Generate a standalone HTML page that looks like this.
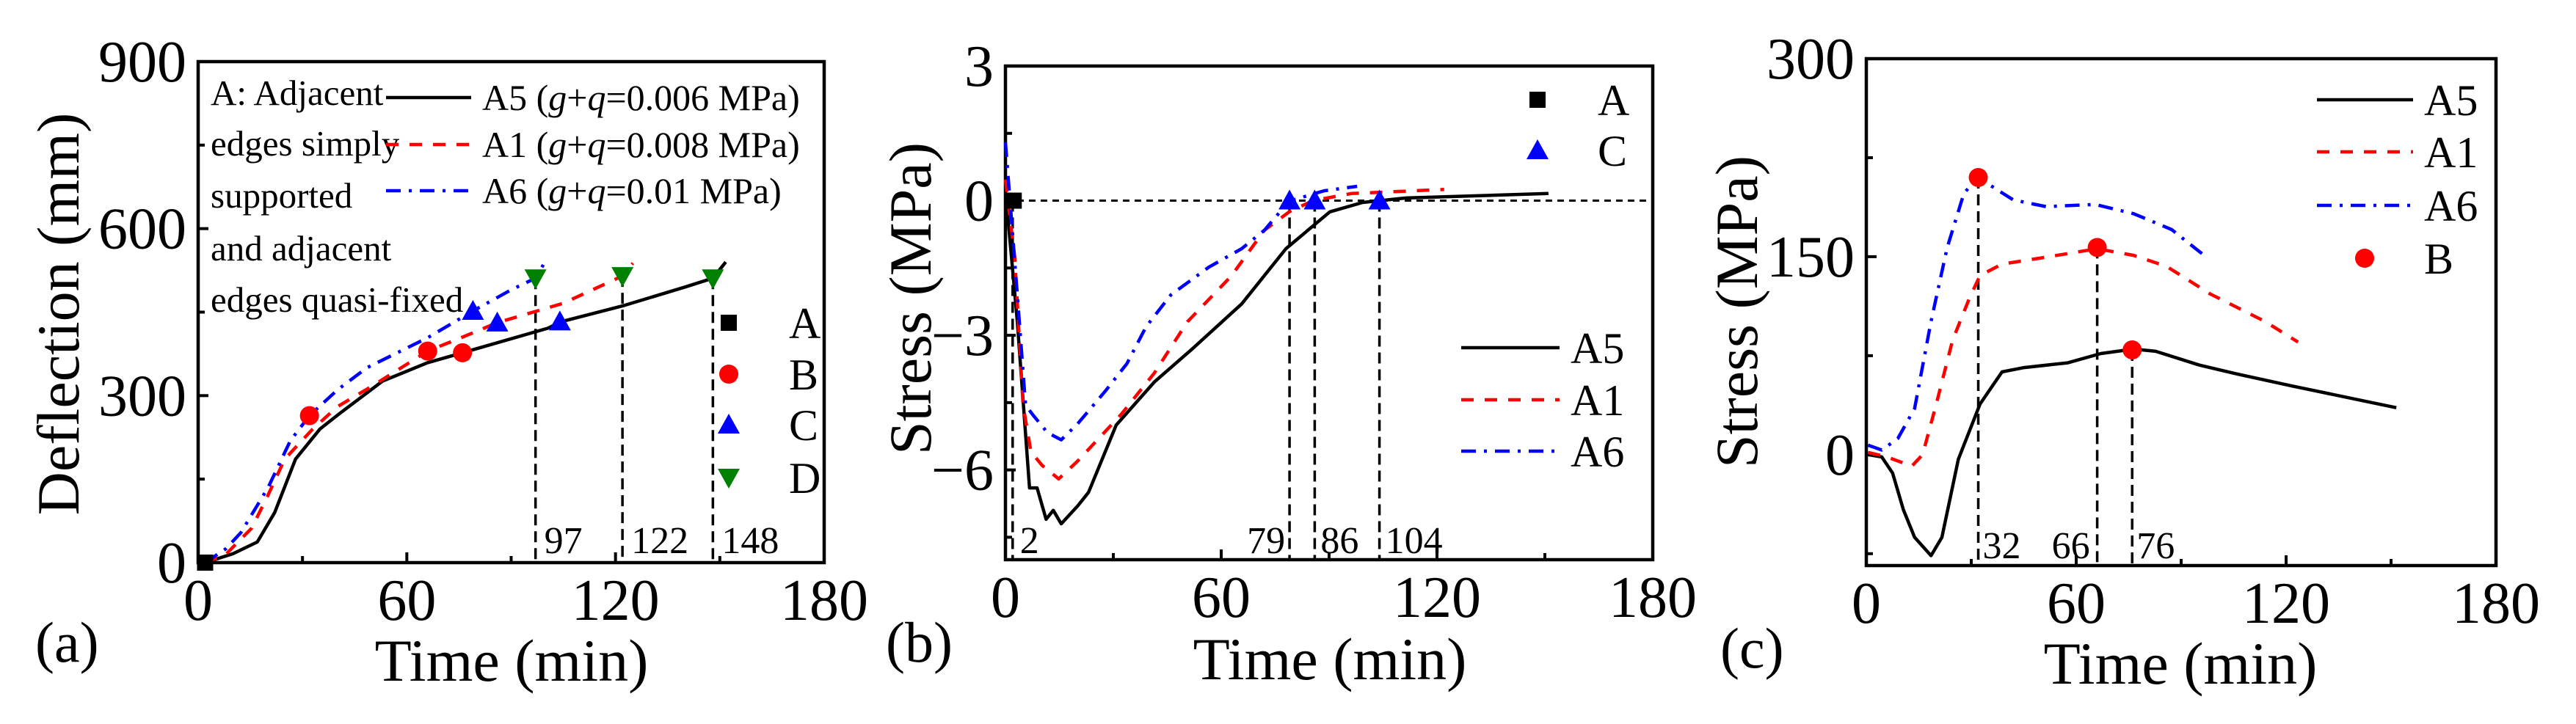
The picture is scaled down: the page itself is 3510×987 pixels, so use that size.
<!DOCTYPE html>
<html><head><meta charset="utf-8">
<style>
html,body{margin:0;padding:0;background:#fff;}
svg, svg text{font-family:"Liberation Serif","Times New Roman","DejaVu Serif",serif;}
</style></head>
<body>
<svg id="fig" xmlns="http://www.w3.org/2000/svg" width="3510" height="982" viewBox="0 0 3510 982" font-family="Liberation Serif, DejaVu Serif, serif"></svg>
<script>
// ---------- Panel (a) data: deflection (mm) vs time (min) ----------
const aA5T=[0,2,10,17,22,28,35,40.7,53,65.9,76,100.5,104.5,122.5,140,148,151.7];
const aA5Y=[0,0,16,37,90,186,240,268,326,359,377,421,433,462,495,511,540];
const aA1T=[2,8,15.4,20,24.9,32.8,40,50,66,76,86,105,122,125];
const aA1Y=[0,15,62,120,186,239,280,317,380,405,431,466,515,538];
const aA6T=[2,8,12.3,20.2,26.5,32,40,48.5,66,79,90,97,99.7];
const aA6Y=[0,25,54,136,219,264,310,350,404,452,490,511,540];
const aMarkA=[[2,0]];
const aMarkB=[[32,264],[66,380],[76,377]];
const aMarkC=[[79,452],[86,431],[104,433]];
const aMarkD=[[97,511],[122,515],[148,511]];
const aVLines=[97,122,148];
const aVLineTops=[511,515,511];

// ---------- Panel (b) data: stress (MPa) vs time ----------
const bA5T=[0.3,3.3,6.7,8.8,11.3,13.3,15.5,20.1,23.1,30.8,41.4,52,65.7,78,90.2,99.3,111.4,151];
const bA5Y=[-0.04,-2.7,-6.4,-6.4,-7.1,-6.9,-7.2,-6.8,-6.5,-5.0,-4.04,-3.3,-2.3,-1.07,-0.25,-0.04,0.06,0.16];
const bA1T=[0,2.6,4.9,7.1,10.2,14.8,20.1,32.2,41.4,50.6,62.8,72,78.9,85.5,96.2,122];
const bA1Y=[0.47,-1.27,-4.56,-5.6,-5.9,-6.2,-5.8,-4.76,-3.84,-2.7,-1.68,-0.66,-0.25,0,0.16,0.25];
const bA6T=[0,3.3,5.6,7.9,11.7,15.5,20.1,27.7,33.8,39.1,46,56.6,65.7,72,78.9,88.6,97.8];
const bA6Y=[1.3,-2.1,-4.56,-4.8,-5.17,-5.33,-4.97,-4.25,-3.63,-2.81,-2.1,-1.48,-1.07,-0.66,-0.01,0.22,0.32];
const bMarkA=[[2.3,0]];
const bMarkC=[[79,0],[86,0],[104,0]];
const bVLines=[2,79,86,104];

// ---------- Panel (c) data: stress (MPa) vs time ----------
const cA5T=[0.5,4.4,7.5,10.6,13.8,18.5,21.6,26.3,32.5,38.8,45.1,57.6,67,76.4,82.7,95.2,106.2,121.8,151.5];
const cA5Y=[0,-1.7,-13.9,-41.7,-62.6,-76.5,-62.6,-3.5,38.3,62.7,66,69.6,76.6,80,78.3,67.9,61,52,35.6];
const cA1T=[0.5,5.9,13,16.1,20,24.7,29.4,32.5,38.8,51.4,65.9,76.4,85.8,98.3,113.9,123.4];
const cA1Y=[1.7,-1.7,-8.7,0,38.3,87,118,135.7,144.4,149.6,156,151,142.7,121.8,101,85.3];
const cA6T=[0.5,4.4,9,13.8,18.5,23.1,27.9,31.9,42,51.4,65.4,76.4,87.3,97.5];
const cA6Y=[7.2,3.5,12.2,35,101,156.7,198,210,193,187.9,189.6,182.6,170.5,149];
const cMarkB=[[32,210],[66,157],[76,79.4]];
const cVLines=[32,66,76];

const NS="http://www.w3.org/2000/svg";
const FONT='Liberation Serif, DejaVu Serif, serif';
const svg=document.getElementById('fig');
function mk(tag,attrs,parent){const e=document.createElementNS(NS,tag);for(const k in attrs)e.setAttribute(k,attrs[k]);(parent||svg).appendChild(e);return e;}
function txt(s,attrs,parent){attrs['font-family']=FONT;const e=mk('text',attrs,parent);e.textContent=s;return e;}

function makeAxes(box,xdom,ydom){
  return {
    x:v=>box.x0+(v-xdom[0])/(xdom[1]-xdom[0])*(box.x1-box.x0),
    y:v=>box.y1-(v-ydom[0])/(ydom[1]-ydom[0])*(box.y1-box.y0)
  };
}
function drawFrame(g,box,ax,xMaj,xMin,yMaj,yMin,yLabels){
  let t;
  for(const v of xMaj){
    t=mk('line',{x1:ax.x(v),x2:ax.x(v),y1:box.y1,y2:box.y1-14,stroke:'#000','stroke-width':4},g);
    
    
    t=txt(String(v),{x:ax.x(v),y:box.y1+78,'font-size':80,'text-anchor':'middle'},g);
    
    
  }
  for(const v of xMin){
    t=mk('line',{x1:ax.x(v),x2:ax.x(v),y1:box.y1,y2:box.y1-9,stroke:'#000','stroke-width':4},g);
    
    
  }
  yMaj.forEach((v,i)=>{
    t=mk('line',{x1:box.x0,x2:box.x0+14,y1:ax.y(v),y2:ax.y(v),stroke:'#000','stroke-width':4},g);
    
    
    t=txt(yLabels[i],{x:box.x0-16,y:ax.y(v)+27,'font-size':80,'text-anchor':'end'},g);
    
    
  });
  for(const v of yMin){
    t=mk('line',{x1:box.x0,x2:box.x0+9,y1:ax.y(v),y2:ax.y(v),stroke:'#000','stroke-width':4},g);
    
    
  }
  t=mk('rect',{x:box.x0,y:box.y0,width:box.x1-box.x0,height:box.y1-box.y0,fill:'none',stroke:'#000','stroke-width':4.5},g);
  
  
}
const STY={
  A5:{stroke:'#000',dash:'none'},
  A1:{stroke:'#ff0000',dash:'17 15'},
  A6:{stroke:'#0000ff',dash:'20 11 4 11'}
};
function series(g,ax,T,Y,key,name){
  const pts=T.map((t,i)=>ax.x(t).toFixed(1)+','+ax.y(Y[i]).toFixed(1)).join(' ');
  const p=mk('polyline',{points:pts,fill:'none',stroke:STY[key].stroke,'stroke-width':4.5,'stroke-dasharray':STY[key].dash,'stroke-linejoin':'round'},g);
  
  
}
function marker(g,type,cx,cy,name){
  let e;
  if(type==='A') e=mk('rect',{x:cx-11,y:cy-11,width:22,height:22,fill:'#000'},g);
  else if(type==='B') e=mk('circle',{cx:cx,cy:cy,r:13,fill:'#ff0000'},g);
  else if(type==='C') e=mk('polygon',{points:`${cx},${cy-15} ${cx-15},${cy+12} ${cx+15},${cy+12}`,fill:'#0000ff'},g);
  else e=mk('polygon',{points:`${cx},${cy+15} ${cx-15},${cy-12} ${cx+15},${cy-12}`,fill:'#008000'},g);
  
  
  return e;
}
function vline(g,x,yTop,yBot,name){
  const e=mk('line',{x1:x,x2:x,y1:yTop,y2:yBot,stroke:'#000','stroke-width':3.5,'stroke-dasharray':'15 8'},g);
  
  
}
function legLine(g,x1,x2,y,key){
  let e=mk('line',{x1:x1,x2:x2,y1:y,y2:y,stroke:STY[key].stroke,'stroke-width':4.5,'stroke-dasharray':STY[key].dash},g);
  
  
  return e;
}

// ================= Panel (a) =================
const gA=mk('g',{});


const boxA={x0:270,x1:1123,y0:84,y1:767};
const axA=makeAxes(boxA,[0,180],[0,900]);
drawFrame(gA,boxA,axA,[0,60,120,180],[30,90,150],[0,300,600,900],[150,450,750],['0','300','600','900']);
aVLines.forEach((v,i)=>{
  vline(gA,axA.x(v),axA.y(aVLineTops[i]),boxA.y1,'drop-line-'+v);
  const l=txt(String(v),{x:axA.x(v)+12,y:754,'font-size':52},gA);
  
  
});
series(gA,axA,aA5T,aA5Y,'A5','series-a5');
series(gA,axA,aA1T,aA1Y,'A1','series-a1');
series(gA,axA,aA6T,aA6Y,'A6','series-a6');
aMarkA.forEach(p=>marker(gA,'A',axA.x(p[0]),axA.y(p[1]),'marker-a'));
aMarkB.forEach(p=>marker(gA,'B',axA.x(p[0]),axA.y(p[1]),'marker-b'));
aMarkC.forEach(p=>marker(gA,'C',axA.x(p[0]),axA.y(p[1]),'marker-c'));
aMarkD.forEach(p=>marker(gA,'D',axA.x(p[0]),axA.y(p[1]),'marker-d'));
const noteLines=['A: Adjacent','edges simply','supported','and adjacent','edges quasi-fixed'];
const noteY=[143,212,283,355,425];
noteLines.forEach((s,i)=>{
  const n=txt(s,{x:287,y:noteY[i],'font-size':49},gA);
  
  
});
const legA=[['A5','0.006'],['A1','0.008'],['A6','0.01']];
const legAY=[133,197,260];
legA.forEach((r,i)=>{
  legLine(gA,526,642,legAY[i],r[0]);
  const t=mk('text',{x:657,y:legAY[i]+17,'font-size':50,'font-family':FONT},gA);
  
  
  t.innerHTML=r[0]+' (<tspan font-style="italic">g</tspan>+<tspan font-style="italic">q</tspan>='+r[1]+' MPa)';
});
const mLegA=[['A',440],['B',510],['C',579],['D',651]];
mLegA.forEach(r=>{
  marker(gA,r[0],993,r[1],'legend-marker-'+r[0].toLowerCase());
  const t=txt(r[0],{x:1075,y:r[1]+21,'font-size':60},gA);
  
  
});
let e;
e=txt('Deflection (mm)',{x:0,y:0,'font-size':82,'text-anchor':'middle',transform:'translate(107,428) rotate(-90)'},gA);


e=txt('Time (min)',{x:697,y:928,'font-size':82,'text-anchor':'middle'},gA);


e=txt('(a)',{x:48,y:902,'font-size':78},gA);



// ================= Panel (b) =================
const gB=mk('g',{});


const boxB={x0:1370,x1:2252,y0:90,y1:763};
const axB=makeAxes(boxB,[0,180],[-8,3]);
drawFrame(gB,boxB,axB,[0,60,120,180],[30,90,150],[-6,-3,0,3],[-7.5,-4.5,-1.5,1.5],['\u22126','\u22123','0','3']);
e=mk('line',{x1:boxB.x0,x2:boxB.x1,y1:axB.y(0),y2:axB.y(0),stroke:'#000','stroke-width':3,'stroke-dasharray':'9 7'},gB);


bVLines.forEach(v=>vline(gB,axB.x(v),axB.y(0),boxB.y1,'drop-line-'+v));
const bLab=[['2',axB.x(2)+10,'start'],['79',axB.x(79)-6,'end'],['86',axB.x(86)+8,'start'],['104',axB.x(104)+8,'start']];
bLab.forEach(r=>{
  const l=txt(r[0],{x:r[1],y:754,'font-size':52,'text-anchor':r[2]},gB);
  
  
});
series(gB,axB,bA5T,bA5Y,'A5','series-a5');
series(gB,axB,bA1T,bA1Y,'A1','series-a1');
series(gB,axB,bA6T,bA6Y,'A6','series-a6');
bMarkA.forEach(p=>marker(gB,'A',axB.x(p[0]),axB.y(p[1]),'marker-a'));
bMarkC.forEach(p=>marker(gB,'C',axB.x(p[0]),axB.y(p[1]),'marker-c'));
marker(gB,'A',2095,136,'legend-marker-a');
e=txt('A',{x:2177,y:157,'font-size':60},gB);


marker(gB,'C',2095,205,'legend-marker-c');
e=txt('C',{x:2177,y:226,'font-size':60},gB);


[['A5',474],['A1',545],['A6',615]].forEach(r=>{
  legLine(gB,1991,2125,r[1],r[0]);
  const t=txt(r[0],{x:2140,y:r[1]+21,'font-size':60},gB);
  
  
});
e=txt('Stress (MPa)',{x:0,y:0,'font-size':82,'text-anchor':'middle',transform:'translate(1268,407) rotate(-90)'},gB);


e=txt('Time (min)',{x:1812,y:926,'font-size':82,'text-anchor':'middle'},gB);


e=txt('(b)',{x:1207,y:902,'font-size':78},gB);



// ================= Panel (c) =================
const gC=mk('g',{});


const boxC={x0:2543,x1:3401,y0:80,y1:771};
const axC=makeAxes(boxC,[0,180],[-84,300]);
drawFrame(gC,boxC,axC,[0,60,120,180],[30,90,150],[0,150,300],[-75,75,225],['0','150','300']);
cVLines.forEach((v,i)=>vline(gC,axC.x(v),axC.y(cMarkB[i][1]),boxC.y1,'drop-line-'+v));
const cLab=[['32',axC.x(32)+6,'start'],['66',axC.x(66)-10,'end'],['76',axC.x(76)+6,'start']];
cLab.forEach(r=>{
  const l=txt(r[0],{x:r[1],y:761,'font-size':52,'text-anchor':r[2]},gC);
  
  
});
series(gC,axC,cA5T,cA5Y,'A5','series-a5');
series(gC,axC,cA1T,cA1Y,'A1','series-a1');
series(gC,axC,cA6T,cA6Y,'A6','series-a6');
cMarkB.forEach(p=>marker(gC,'B',axC.x(p[0]),axC.y(p[1]),'marker-b'));
[['A5',136],['A1',207],['A6',280]].forEach(r=>{
  legLine(gC,3157,3288,r[1],r[0]);
  const t=txt(r[0],{x:3303,y:r[1]+21,'font-size':60},gC);
  
  
});
marker(gC,'B',3222,352,'legend-marker-b');
e=txt('B',{x:3303,y:373,'font-size':60},gC);


e=txt('Stress (MPa)',{x:0,y:0,'font-size':82,'text-anchor':'middle',transform:'translate(2394,425) rotate(-90)'},gC);


e=txt('Time (min)',{x:2971,y:932,'font-size':82,'text-anchor':'middle'},gC);


e=txt('(c)',{x:2344,y:910,'font-size':78},gC);


</script>
</body></html>
